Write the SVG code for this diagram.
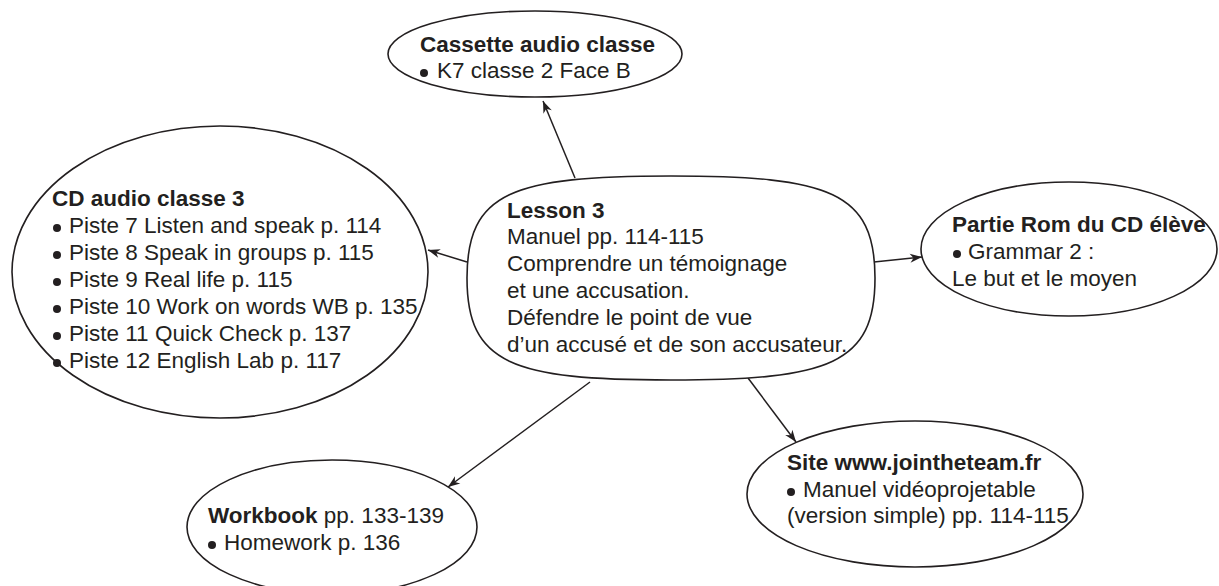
<svg xmlns="http://www.w3.org/2000/svg" width="1219" height="586" viewBox="0 0 1219 586">
<style>
  .shape { fill: #ffffff; stroke: #231f20; stroke-width: 1.6; }
  .conn { fill: none; stroke: #231f20; stroke-width: 1.5; marker-end: url(#arr); }
  text { font-family: "Liberation Sans", Arial, sans-serif; font-size: 22.5px; fill: #231f20; }
  .b { font-weight: bold; }
  .dot { fill: #231f20; }
</style>
<defs>
  <marker id="arr" markerUnits="userSpaceOnUse" markerWidth="14" markerHeight="12" viewBox="-12 -6 14 12" refX="0" refY="0" orient="auto" overflow="visible">
    <path d="M0,0 L-12,-4.5 L-8.5,0 L-12,4.5 Z" fill="#231f20"/>
  </marker>
</defs>

<g id="connectors">
  <line class="conn" x1="575" y1="178" x2="543" y2="101"/>
  <line class="conn" x1="467" y1="262" x2="428" y2="250"/>
  <line class="conn" x1="874" y1="262" x2="922" y2="257"/>
  <line class="conn" x1="590" y1="382" x2="448" y2="487"/>
  <line class="conn" x1="748" y1="378" x2="796" y2="442"/>
</g>

<g id="cassette">
  <ellipse class="shape" cx="535" cy="54" rx="147" ry="43"/>
  <text class="b" x="420" y="52">Cassette audio classe</text>
  <circle class="dot" cx="424" cy="73" r="4"/>
  <text x="437" y="78">K7 classe 2 Face B</text>
</g>

<g id="cd-audio">
  <ellipse class="shape" cx="220" cy="272" rx="208" ry="146"/>
  <text class="b" x="52" y="206">CD audio classe 3</text>
  <circle class="dot" cx="57" cy="228" r="4"/>
  <text x="69" y="233">Piste 7 Listen and speak p. 114</text>
  <circle class="dot" cx="57" cy="255" r="4"/>
  <text x="69" y="260">Piste 8 Speak in groups p. 115</text>
  <circle class="dot" cx="57" cy="282" r="4"/>
  <text x="69" y="287">Piste 9 Real life p. 115</text>
  <circle class="dot" cx="57" cy="309" r="4"/>
  <text x="69" y="314">Piste 10 Work on words WB p. 135</text>
  <circle class="dot" cx="57" cy="336" r="4"/>
  <text x="69" y="341">Piste 11 Quick Check p. 137</text>
  <circle class="dot" cx="57" cy="363" r="4"/>
  <text x="69" y="368">Piste 12 English Lab p. 117</text>
</g>

<g id="lesson">
  <path class="shape" d="M467,278 C467,192 512,176 671,176 C830,176 875,192 875,278 C875,364 830,380 671,380 C512,380 467,364 467,278 Z"/>
  <text class="b" x="507" y="218">Lesson 3</text>
  <text x="507" y="244">Manuel pp. 114-115</text>
  <text x="507" y="271">Comprendre un témoignage</text>
  <text x="507" y="298">et une accusation.</text>
  <text x="507" y="325">Défendre le point de vue</text>
  <text x="507" y="352">d’un accusé et de son accusateur.</text>
</g>

<g id="partie-rom">
  <ellipse class="shape" cx="1069" cy="249" rx="148" ry="67"/>
  <text class="b" x="952" y="232">Partie Rom du CD élève</text>
  <circle class="dot" cx="957" cy="254" r="4"/>
  <text x="968" y="259">Grammar 2 :</text>
  <text x="952" y="286">Le but et le moyen</text>
</g>

<g id="workbook">
  <ellipse class="shape" cx="332" cy="527" rx="145" ry="67"/>
  <text x="208" y="523"><tspan class="b">Workbook</tspan> pp. 133-139</text>
  <circle class="dot" cx="212" cy="545" r="4"/>
  <text x="224" y="550">Homework p. 136</text>
</g>

<g id="site">
  <ellipse class="shape" cx="915" cy="494" rx="168" ry="73"/>
  <text class="b" x="787" y="470">Site www.jointheteam.fr</text>
  <circle class="dot" cx="791" cy="492" r="4"/>
  <text x="803" y="497">Manuel vidéoprojetable</text>
  <text x="787" y="523">(version simple) pp. 114-115</text>
</g>
</svg>
